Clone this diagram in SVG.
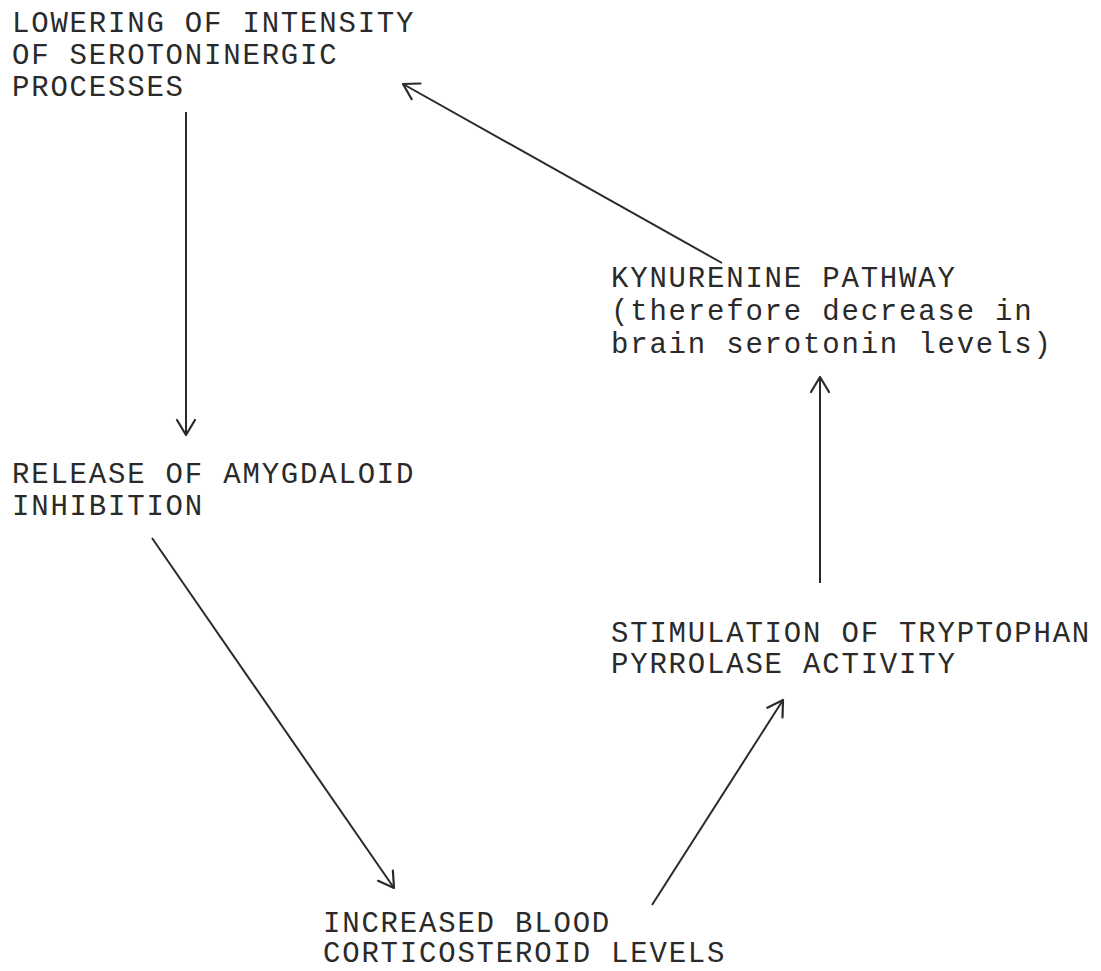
<svg xmlns="http://www.w3.org/2000/svg" width="1101" height="971" viewBox="0 0 1101 971">
<style>
text{font-family:"Liberation Mono","Courier New",monospace;font-size:29px;letter-spacing:1.8px;fill:#2a2a2a}
.c line{stroke:#2a2a2a;stroke-width:2;fill:none;marker-end:url(#ah)}
</style>
<defs>
<marker id="ah" markerUnits="userSpaceOnUse" viewBox="-20 -12 24 24" refX="0" refY="0" markerWidth="24" markerHeight="24" orient="auto">
<path d="M-15,-9 L0,0 L-15,9" fill="none" stroke="#2a2a2a" stroke-width="2.2" stroke-linecap="round" stroke-linejoin="round"/>
</marker>
</defs>
<rect width="1101" height="971" fill="#fff"/>
<g id="n1"><text x="12" y="32">LOWERING OF INTENSITY</text><text x="12" y="64">OF SEROTONINERGIC</text><text x="12" y="96">PROCESSES</text></g>
<g id="n2"><text x="12" y="483">RELEASE OF AMYGDALOID</text><text x="12" y="515">INHIBITION</text></g>
<g id="n3"><text x="323" y="932">INCREASED BLOOD</text><text x="323" y="962">CORTICOSTEROID LEVELS</text></g>
<g id="n4"><text x="611" y="642">STIMULATION OF TRYPTOPHAN</text><text x="611" y="673">PYRROLASE ACTIVITY</text></g>
<g id="n5"><text x="611" y="287">KYNURENINE PATHWAY</text><text x="611" y="320">(therefore decrease in</text><text x="611" y="353">brain serotonin levels)</text></g>
<g class="c" id="connectors">
<line x1="186" y1="112" x2="186" y2="435"/>
<line x1="152" y1="538" x2="394" y2="888"/>
<line x1="652" y1="905" x2="783" y2="700"/>
<line x1="820" y1="583" x2="820" y2="377"/>
<line x1="722" y1="263" x2="403" y2="84"/>
</g>
</svg>
